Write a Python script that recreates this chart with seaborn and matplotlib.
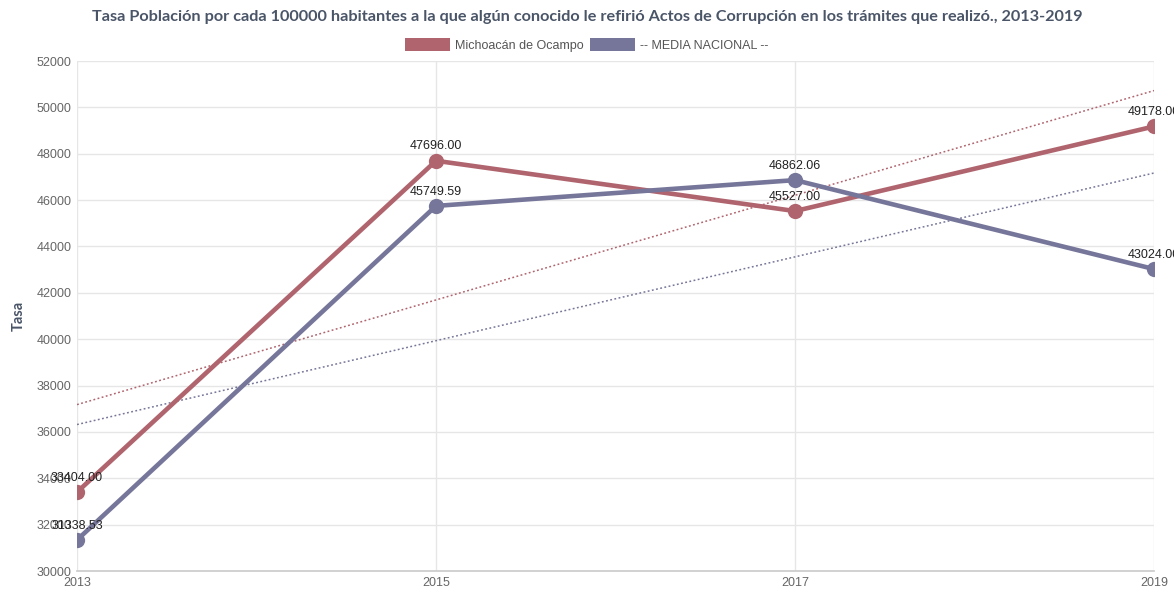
import numpy as np
import pandas as pd
import matplotlib
matplotlib.use("Agg")
import matplotlib.pyplot as plt
from matplotlib.patches import Patch
import seaborn as sns

years = [2013, 2015, 2017, 2019]
michoacan = [33404.00, 47696.00, 45527.00, 49178.00]
nacional = [31338.53, 45749.59, 46862.06, 43024.00]
series_names = ["Michoacán de Ocampo", "-- MEDIA NACIONAL --"]
colors = ["#b0646e", "#76769a"]
yticks = [30000, 32000, 34000, 36000, 38000, 40000, 42000, 44000, 46000, 48000, 50000, 52000]
title = "Tasa Población por cada 100000 habitantes a la que algún conocido le refirió Actos de Corrupción en los trámites que realizó., 2013-2019"

df = pd.DataFrame({
    "year": years * 2,
    "value": michoacan + nacional,
    "serie": [series_names[0]] * len(years) + [series_names[1]] * len(years),
})

sns.set_theme(style="white")
plt.rcParams['font.family'] = ['Liberation Sans', 'DejaVu Sans']

fig = plt.figure(figsize=(11.74, 5.94), dpi=100)
ax = fig.add_axes([0.0656, 0.0387, 0.9174, 0.8586])

# trend lines
for name, col in zip(series_names, colors):
    sub = df[df["serie"] == name]
    sns.regplot(data=sub, x="year", y="value", ax=ax, scatter=False, ci=None,
                truncate=True, line_kws=dict(color=col, lw=1.1, ls=(0, (1.2, 1.6)), zorder=2))

sns.lineplot(data=df, x="year", y="value", hue="serie", palette=colors, ax=ax,
             marker="o", markersize=11, markeredgewidth=0, linewidth=3.3, legend=False, zorder=3)

for name in series_names:
    sub = df[df["serie"] == name]
    for x, y in zip(sub["year"], sub["value"]):
        ax.annotate(f"{y:.2f}", (x, y), xytext=(0, 6), textcoords="offset points",
                    ha="center", va="bottom", fontsize=9, color="#222222", annotation_clip=False)

ax.set_xlim(2013, 2019)
ax.set_ylim(30000, 52000)
ax.set_xticks(years)
ax.set_yticks(yticks)
ax.tick_params(axis="both", labelsize=9, labelcolor="#666666", length=0, pad=4)
ax.grid(True, color="#e6e6e6", lw=1)
for s in ["top", "right", "left"]:
    ax.spines[s].set_visible(False)
ax.spines["bottom"].set_color("#cccccc")
ax.set_xlabel("")
ax.set_ylabel("Tasa", fontsize=10.5, fontweight="bold", color="#4a5568", labelpad=8,
              family=["Lato", "DejaVu Sans"])

fig.text(0.5, 0.972, title, ha="center", va="center", fontsize=11.7, fontweight="bold",
         color="#4a5568", family=["Lato", "DejaVu Sans"])

handles = [Patch(facecolor=c, edgecolor="none") for c in colors]
fig.legend(handles, series_names, loc="center", bbox_to_anchor=(0.5, 0.925), ncol=2,
           frameon=False, fontsize=9, handlelength=3.6, handleheight=1.3,
           handletextpad=0.4, columnspacing=0.5, labelcolor="#555555")

fig.savefig("out.png", dpi=100)
